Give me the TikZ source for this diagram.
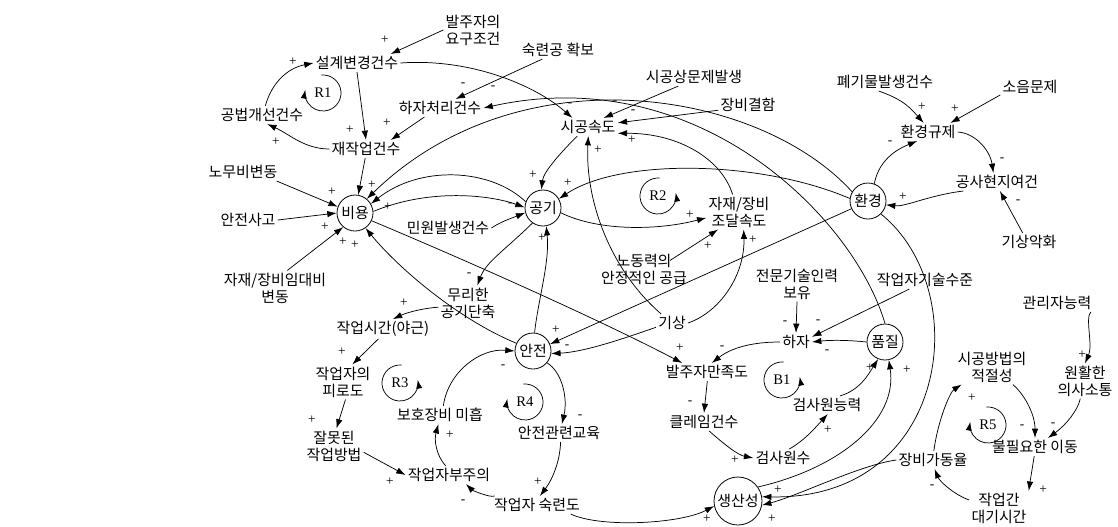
\documentclass[tikz,border=0pt]{standalone}
\usepackage{fontspec}
\setmainfont{Noto Sans CJK KR}
\newfontfamily\rfont{Liberation Serif}
\usetikzlibrary{arrows.meta}

\tikzset{
  var/.style={inner sep=1.5pt, align=center, font=\fontsize{11.2}{12.8}\selectfont},
  lvl/.style={circle, draw, line width=0.6pt, inner sep=0pt, minimum size=27pt, font=\fontsize{11.2}{12.8}\selectfont},
  cl/.style={line width=0.55pt, -{Latex[length=7pt,width=4.8pt]}},
  sgn/.style={inner sep=0pt, font=\rfont\fontsize{10}{10}\selectfont},
  rl/.style={inner sep=0pt, font=\rfont\fontsize{11}{11}\selectfont},
}

% loop marker: name, x, y, label, start angle, end angle
\newcommand\loopmark[6]{%
  \node[rl] (#1) at (#2,#3) {#4};
  \draw[line width=0.55pt, -{Latex[length=6.5pt,width=4.6pt]}]
    ([shift={(#5:18)}]#1.center) arc[start angle=#5, end angle=#6, radius=18];
}

\begin{document}
\begin{tikzpicture}[x=0.75pt,y=-0.75pt]
\useasboundingbox (0,0) rectangle (1118,526);

% variables
\node[var] (req) at (473,30) {발주자의\\요구조건};
\node[var] (skill) at (558,50) {숙련공 확보};
\node[var] (dchg) at (357,63) {설계변경건수};
\node[var] (meth) at (262,115) {공법개선건수};
\node[var] (dfix) at (440,108) {하자처리건수};
\node[var] (rework) at (366,149) {재작업건수};
\node[var] (prob) at (694,77) {시공상문제발생};
\node[var] (eqdef) at (748,105) {장비결함};
\node[var] (speed) at (588,127) {시공속도};
\node[var] (waste) at (885,82) {폐기물발생건수};
\node[var] (noise) at (1030,87) {소음문제};
\node[var] (ereg) at (928,132) {환경규제};
\node[var] (site) at (997,182) {공사현지여건};
\node[var] (wx2) at (1029,242) {기상악화};
\node[var] (labor) at (243,172) {노무비변동};
\node[var] (acc) at (248,220) {안전사고};
\node[var] (supply) at (739,212) {자재/장비\\조달속도};
\node[var] (civil) at (448,228) {민원발생건수};
\node[var] (rent) at (275,288) {자재/장비임대비\\변동};
\node[var] (steady) at (644,269) {노동력의\\안정적인 공급};
\node[var] (expert) at (797,284) {전문기술인력\\보유};
\node[var] (wskill) at (925,280) {작업자기술수준};
\node[var] (crash) at (468,303) {무리한\\공기단축};
\node[var] (ot) at (383,329) {작업시간(야근)};
\node[var] (mgr) at (1057,303) {관리자능력};
\node[var] (wx) at (672,323) {기상};
\node[var] (defect) at (796,342) {하자};
\node[var] (sat) at (707,372) {발주자만족도};
\node[var] (fatigue) at (343,382) {작업자의\\피로도};
\node[var] (gear) at (440,415) {보호장비 미흡};
\node[var] (fit) at (992,367) {시공방법의\\적절성};
\node[var] (comm) at (1085,381) {원활한\\의사소통};
\node[var] (insp) at (827,405) {검사원능력};
\node[var] (claim) at (704,422) {클레임건수};
\node[var] (edu) at (559,433) {안전관련교육};
\node[var] (wrong) at (334,446) {잘못된\\작업방법};
\node[var] (move) at (1035,447) {불필요한 이동};
\node[var] (ninsp) at (783,458) {검사원수};
\node[var] (care) at (449,475) {작업자부주의};
\node[var] (util) at (933,460) {장비가동율};
\node[var] (wait) at (999,508) {작업간\\대기시간};
\node[var] (exp) at (537,505) {작업자 숙련도};

% key variables
\node[lvl] (cost) at (355,213) {비용};
\node[lvl] (sched) at (543,208) {공기};
\node[lvl] (env) at (868,201) {환경};
\node[lvl] (qual) at (885,342) {품질};
\node[lvl] (safe) at (533,351) {안전};
\node[lvl, minimum size=36pt] (prod) at (738,501) {생산성};

% design change / rework
\draw[cl] (req.west) -- (dchg.15);
\draw[cl] (dchg.south) -- (rework.north);
\draw[cl] (rework.west) .. controls +(-25,0) and +(22,10) .. (meth.-60);
\draw[cl] (meth.70) .. controls (272,82) and (288,68) .. (dchg.west);
\loopmark{r1}{323}{93}{R1}{-95}{190}
\draw[cl] (dchg.east) .. controls (470,58) and (535,85) .. (speed.150);
\draw[cl] (skill.-150) -- (dfix.30);
\draw[cl] (qual.north) .. controls (855,220) and (700,60) .. (dfix.east);
\draw[cl] (dfix.-150) -- (rework.20);
\draw[cl] (rework.-95) -- (cost.80);

% cost and schedule
\draw[cl] (env.150) .. controls (760,90) and (520,50) .. (cost.50);
\draw[cl] (sched.160) .. controls (490,168) and (420,165) .. (cost.30);
\draw[cl] (cost.5) .. controls (430,188) and (490,195) .. (sched.178);
\draw[cl] (labor.-15) -- (cost.160);
\draw[cl] (acc.east) -- (cost.west);
\draw[cl] (rent.55) -- (cost.-130);
\draw[cl] (safe.155) .. controls (460,320) and (400,270) .. (cost.-55);
\draw[cl] (cost.-25) .. controls (470,262) and (600,320) .. (sat.160);
\draw[cl] (speed.-140) .. controls +(-15,15) and +(2,-18) .. (sched.95);
\draw[cl] (prob.-150) -- (speed.30);
\draw[cl] (eqdef.-170) -- (speed.8);
\draw[cl] (supply.110) .. controls (722,160) and (680,133) .. (speed.-12);
\draw[cl] (wx.140) .. controls (610,270) and (585,200) .. (speed.-88);
\draw[cl] (wx.east) .. controls (720,312) and (745,275) .. (supply.-75);
\draw[cl] (wx.-165) .. controls (625,338) and (585,352) .. (safe.-8);
\draw[cl] (env.-155) -- (safe.22);
\draw[cl] (env.172) .. controls (760,160) and (620,158) .. (sched.30);
\draw[cl] (sched.-15) .. controls (600,232) and (660,230) .. (supply.-170);
\draw[cl] ([shift={(26,9)}]steady.north) -- (supply.-140);
\draw[cl] (civil.east) .. controls (500,222) and (512,218) .. (sched.-165);
\draw[cl] (sched.-125) .. controls (505,250) and (486,262) .. (crash.62);
\draw[cl] (safe.85) .. controls (538,300) and (550,262) .. (sched.-80);
\loopmark{r2}{658}{196}{R2}{-85}{-370}

% safety
\draw[cl] (crash.-172) .. controls (425,308) and (408,312) .. (ot.45);
\draw[cl] (ot.-115) -- (fatigue.62);
\draw[cl] (fatigue.-82) -- (wrong.82);
\draw[cl] (wrong.-12) -- (care.west);
\draw[cl] (care.110) .. controls (436,455) and (434,440) .. (gear.-100);
\draw[cl] (gear.70) .. controls (448,372) and (480,348) .. (safe.west);
\draw[cl] (safe.-40) .. controls (562,372) and (568,398) .. (edu.72);
\draw[cl] (edu.-80) .. controls (560,462) and (552,480) .. (exp.72);
\draw[cl] (exp.168) .. controls (490,498) and (472,490) .. (care.-28);
\draw[cl] (exp.-15) .. controls (600,528) and (680,524) .. (prod.-168);
\loopmark{r3}{400}{383}{R3}{-85}{-370}
\loopmark{r4}{525}{402}{R4}{-95}{190}

% environment
\draw[cl] (waste.-125) .. controls (905,100) and (912,110) .. (ereg.115);
\draw[cl] (noise.-165) -- (ereg.22);
\draw[cl] (env.70) .. controls (878,165) and (890,152) .. (ereg.-140);
\draw[cl] (ereg.east) .. controls (975,133) and (990,150) .. (site.112);
\draw[cl] (site.-165) .. controls (930,195) and (905,207) .. (env.-12);
\draw[cl] (wx2.125) -- (site.-72);
\draw[cl] (env.-45) .. controls (975,290) and (950,500) .. (prod.10);

% quality
\draw[cl] (util.west) .. controls (860,465) and (800,495) .. (prod.-10);
\draw[cl] (prod.35) .. controls (840,468) and (898,420) .. (qual.-78);
\draw[cl] (insp.35) .. controls (860,390) and (868,375) .. (qual.-112);
\draw[cl] (qual.west) .. controls (848,340) and (830,340) .. (defect.east);
\draw[cl] (expert.south) -- (defect.north);
\draw[cl] (wskill.-150) -- (defect.18);
\draw[cl] (defect.west) .. controls (760,342) and (735,345) .. (sat.62);
\draw[cl] (sat.-88) -- (claim.north);
\draw[cl] (claim.-60) .. controls (725,445) and (738,455) .. (ninsp.west);
\draw[cl] (ninsp.55) .. controls (805,440) and (815,428) .. (insp.-85);
\loopmark{b1}{782}{380}{B1}{-85}{-370}

% productivity
\draw[cl] (mgr.-15) .. controls (1085,318) and (1093,345) .. (comm.north);
\draw[cl] (fit.-40) .. controls (1022,392) and (1035,412) .. (move.north);
\draw[cl] (comm.-105) .. controls (1078,410) and (1066,425) .. (move.35);
\draw[cl] (move.-95) .. controls (1032,470) and (1030,482) .. (wait.30);
\draw[cl] (wait.165) .. controls (955,495) and (940,482) .. (util.-80);
\draw[cl] (util.85) .. controls (938,420) and (950,392) .. (fit.-150);
\loopmark{r5}{988}{425}{R5}{-95}{190}

% polarities
\foreach \x/\y/\s [count=\i] in {
  385/40/+, 293/62/+, 350/130/+, 387/123/+, 276/142/+, 463/85/-, 493/88/-,
  570/105/-, 615/103/-, 633/112/-, 632/140/+, 598/150/+,
  533/175/+, 568/183/+, 510/205/-, 542/238/+, 469/275/-,
  332/192/+, 372/185/+, 388/207/+, 325/227/+, 343/242/+, 355/245/+,
  690/215/+, 708/246/+, 753/240/+,
  922/107/+, 955/109/+, 890/143/-, 1002/160/-, 903/197/+, 1018/202/-,
  556/330/+, 567/347/-, 503/367/-, 580/417/-,
  404/303/+, 342/352/+, 312/420/+, 390/482/+, 450/435/+, 463/502/-, 538/482/+, 707/519/+,
  680/348/+, 722/348/-, 690/403/-, 735/460/+, 828/430/+,
  785/323/-, 818/322/-, 827/352/-, 870/368/+, 907/370/+,
  778/490/+, 772/519/+,
  1082/355/+, 972/398/+, 1022/427/-, 1053/425/-, 1043/490/+, 932/487/-}
  \node[sgn] (sg\i) at (\x,\y) {\s};
\end{tikzpicture}
\end{document}
